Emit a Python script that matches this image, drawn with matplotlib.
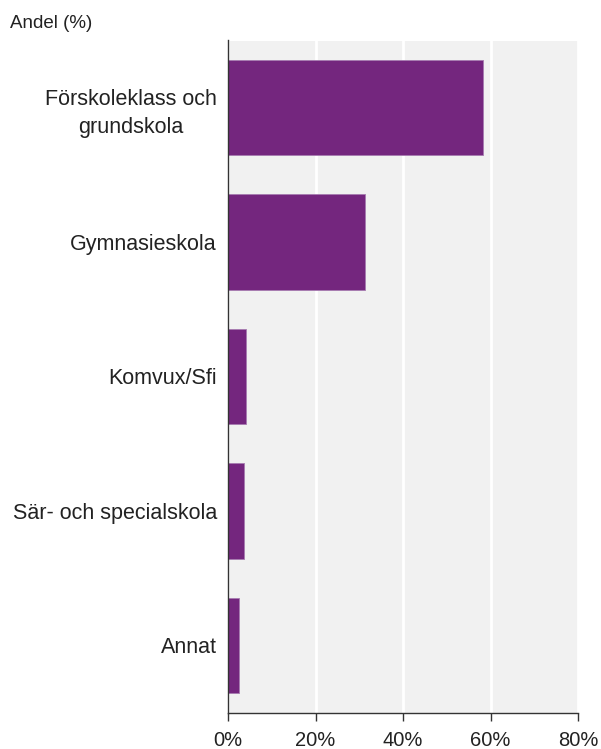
import numpy as np
import matplotlib
matplotlib.use('Agg')
import matplotlib.pyplot as plt
from matplotlib.ticker import FuncFormatter

plt.rcParams['font.family'] = ['Liberation Sans', 'DejaVu Sans']

categories = ['Förskoleklass och\ngrundskola', 'Gymnasieskola', 'Komvux/Sfi',
              'Sär- och specialskola', 'Annat']
values = [58.3, 31.4, 4.2, 3.6, 2.5]
xticks = [0, 20, 40, 60, 80]

bar_color = '#74267e'
bg_color = '#f1f1f1'
text_color = '#222222'

fig = plt.figure(figsize=(6.01, 7.49), dpi=100)
ax = fig.add_axes([228 / 601, 36.5 / 749, 350 / 601, 672 / 749])
ax.set_facecolor(bg_color)

y = np.arange(len(categories))
ax.barh(y, values, height=0.71, color=bar_color, edgecolor='#a77bb0',
        linewidth=0.6, zorder=3)

ax.set_xlim(0, 80)
ax.set_ylim(len(categories) - 0.5, -0.5)
ax.set_xticks(xticks)
ax.xaxis.set_major_formatter(FuncFormatter(lambda v, p: f'{v:.0f}%'))
ax.grid(axis='x', color='white', linewidth=2, zorder=1)
ax.set_axisbelow(True)

ax.set_yticks(y)
ax.set_yticklabels(categories, multialignment='center', linespacing=1.4)
ax.tick_params(axis='y', length=0, pad=8, labelsize=15.5, labelcolor=text_color)
ax.tick_params(axis='x', length=6, width=1, color='#333333', pad=7,
               labelsize=14.5, labelcolor=text_color)

for side in ['top', 'right']:
    ax.spines[side].set_visible(False)
for side in ['left', 'bottom']:
    ax.spines[side].set_color('#333333')
    ax.spines[side].set_linewidth(1)
    ax.spines[side].set_zorder(4)

fig.text(10 / 601, 1 - 23 / 749, 'Andel (%)', fontsize=13.5, color=text_color,
         ha='left', va='center')

fig.savefig('out.png', dpi=100, facecolor='white')
